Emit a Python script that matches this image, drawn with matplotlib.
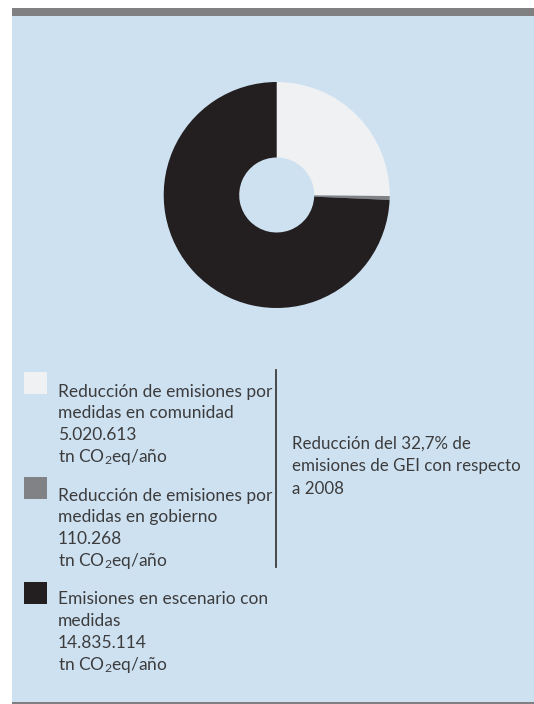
import matplotlib
matplotlib.use("Agg")
import matplotlib.pyplot as plt
from matplotlib.patches import Rectangle
from matplotlib.lines import Line2D

# Data
categories = [
    "Reducción de emisiones por\nmedidas en comunidad",
    "Reducción de emisiones por\nmedidas en gobierno",
    "Emisiones en escenario con\nmedidas",
]
values = [5020613, 110268, 14835114]
value_labels = ["5.020.613", "110.268", "14.835.114"]
unit_label = "tn CO$_\\mathregular{2}$eq/año"
note_lines = ["Reducción del 32,7% de", "emisiones de GEI con respecto", "a 2008"]

colors = ["#eff1f3", "#808285", "#231f20"]
panel_bg = "#cee1f1"
bar_gray = "#808083"
text_color = "#3c3c3d"

plt.rcParams["font.family"] = ["Lato", "DejaVu Sans"]
plt.rcParams["mathtext.fontset"] = "custom"
plt.rcParams["mathtext.rm"] = "Lato"
plt.rcParams["mathtext.default"] = "regular"

W, H = 534, 704
fig = plt.figure(figsize=(W / 100, H / 100), dpi=100)
fig.patch.set_facecolor("white")

# Full-figure overlay in pixel coordinates (y grows downward)
bg = fig.add_axes([0, 0, 1, 1])
bg.set_xlim(0, W)
bg.set_ylim(H, 0)
bg.axis("off")
bg.add_patch(Rectangle((12, 16), W - 12, 686, facecolor=panel_bg, edgecolor="none"))
bg.add_patch(Rectangle((12, 8), W - 12, 8, facecolor=bar_gray, edgecolor="none"))
bg.add_patch(Rectangle((12, 702), W - 12, 2, facecolor=bar_gray, edgecolor="none"))

# Donut
cx, cy, r = 276.7, 195, 113
pax = fig.add_axes([(cx - r) / W, (H - cy - r) / H, 2 * r / W, 2 * r / H])
pax.pie(values, colors=colors, startangle=90, counterclock=False, radius=1,
        wedgeprops=dict(width=1 - 37.5 / 113, edgecolor="none", linewidth=0))
pax.set_xlim(-1, 1)
pax.set_ylim(-1, 1)
pax.set_aspect("auto")
pax.axis("off")

# Legend blocks
fs = 12.5
line_h = 21.8
block_tops = [396.5, 500.5, 604.5]   # baseline of first line in each block
square_tops = [371.5, 476.5, 581.5]
for i in range(3):
    bg.add_patch(Rectangle((24, square_tops[i]), 22.5, 22, facecolor=colors[i],
                           edgecolor="none"))
    lines = categories[i].split("\n") + [value_labels[i], unit_label]
    for j, ln in enumerate(lines):
        bg.text(58, block_tops[i] + j * line_h, ln, fontsize=fs, color=text_color,
                ha="left", va="baseline")

# Divider
bg.add_line(Line2D([276, 276], [370, 567], color="#3c3c3d", linewidth=1.3))

# Note
note_base = 449
for j, ln in enumerate(note_lines):
    bg.text(292, note_base + j * 22.5, ln, fontsize=12.2, color=text_color,
            ha="left", va="baseline")

fig.savefig("out.png", dpi=100, facecolor=fig.get_facecolor())
